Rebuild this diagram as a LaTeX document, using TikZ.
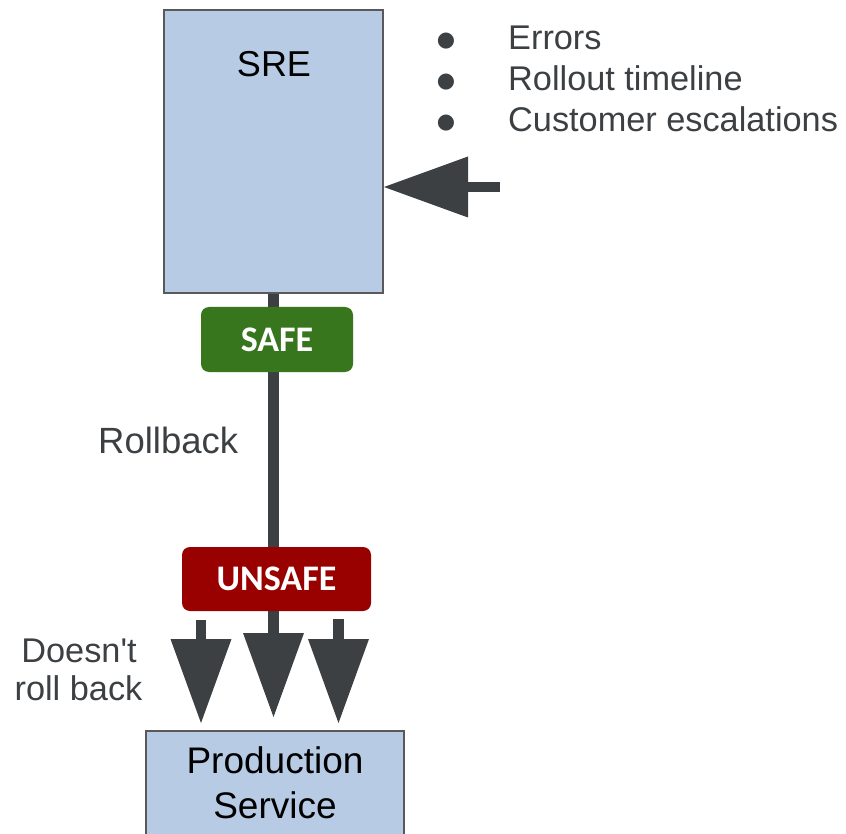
\documentclass[tikz,border=0pt]{standalone}
\usepackage{fontspec}
\setmainfont{Liberation Sans}[Ligatures=TeXOff]
\newfontfamily\tagfont{Carlito}
\newfontfamily\symfont{DejaVu Sans}
\usetikzlibrary{arrows.meta,backgrounds}

\definecolor{boxblue}{HTML}{B7CBE4}
\definecolor{boxline}{HTML}{595959}
\definecolor{arrowgray}{HTML}{3C4043}
\definecolor{textgray}{HTML}{3C4043}
\definecolor{safegreen}{HTML}{38761D}
\definecolor{unsafered}{HTML}{990000}

\begin{document}
\begin{tikzpicture}[x=1pt,y=-1pt,
  box/.style={draw=boxline, line width=2pt, fill=boxblue, inner sep=0pt},
  tagbox/.style={rounded corners=8pt, inner sep=0pt, text=white,
    font=\tagfont\bfseries\fontsize{36}{36}\selectfont},
  bigtext/.style={inner sep=0pt, anchor=base, font=\fontsize{36}{36}\selectfont},
  sidetext/.style={inner sep=0pt, text=textgray, font=\fontsize{34.3}{34.3}\selectfont},
  bulletmark/.style={inner sep=0pt, text=textgray, anchor=center, font=\symfont\fontsize{21}{21}\selectfont},
  flow/.style={draw=arrowgray, line width=10.5pt,
    -{Triangle[length=84pt,width=61pt,line width=0pt]}},
]
\useasboundingbox (0,0) rectangle (846,834);

% boxes
\node[box, minimum width=219pt, minimum height=283pt] (sre) at (273.5,151.5) {};
\node[bigtext] (sretext) at (274,77) {SRE};
\node[box, minimum width=258pt, minimum height=119pt] (prod) at (275,790.5) {};
\node[bigtext, font=\fontsize{37}{37}\selectfont] (prodtext1) at (275,773) {Production};
\node[bigtext, font=\fontsize{37}{37}\selectfont] (prodtext2) at (275,818) {Service};

% gate tags
\node[tagbox, fill=safegreen, minimum width=152pt, minimum height=65pt] (safe) at (277,339.5) {SAFE};
\node[tagbox, fill=unsafered, minimum width=189pt, minimum height=64pt] (unsafe) at (276.5,579) {UNSAFE};

% inputs to SRE
\foreach \i/\txt/\yb in {1/Errors/50, 2/Rollout timeline/91, 3/Customer escalations/132}{
  \node[bulletmark] (dot\i) at (446,\yb-8.5) {●};
  \node[sidetext, anchor=base west] (item\i) at (508,\yb) {\txt};
}

% side labels
\node[sidetext, anchor=base west, font=\fontsize{36.5}{36.5}\selectfont] (rollback) at (98,453) {Rollback};
\node[sidetext, anchor=base] (noroll1) at (79,662) {Doesn't};
\node[sidetext, anchor=base] (noroll2) at (78.5,700) {roll back};

% connector end points
\coordinate (ctxin) at (500,187);
\coordinate (midtip) at (273.5,717);
\coordinate (lefttop) at (201,620);
\coordinate (lefttip) at (201,723);
\coordinate (righttop) at (338.5,619);
\coordinate (righttip) at (338.5,723);

% connectors
\draw[flow] (ctxin) -- (sre.east |- ctxin);
\begin{pgfonlayer}{background}
  \draw[flow] (sre.south) -- (midtip);
\end{pgfonlayer}
\draw[flow] (lefttop) -- (lefttip);
\draw[flow] (righttop) -- (righttip);
\end{tikzpicture}
\end{document}
